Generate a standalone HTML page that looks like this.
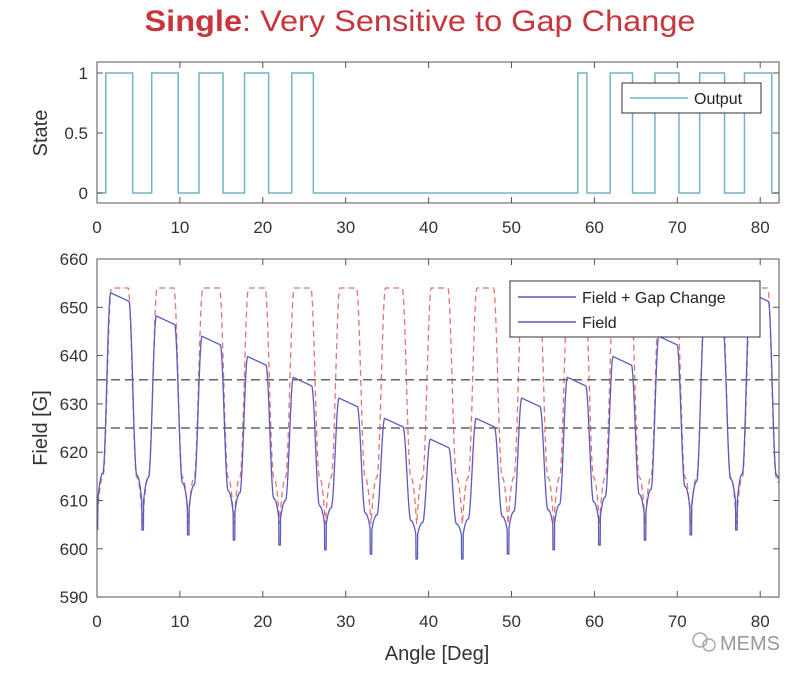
<!DOCTYPE html>
<html><head><meta charset="utf-8"><style>
html,body{margin:0;padding:0;background:#fff;}
svg{display:block;font-family:"Liberation Sans",sans-serif;}
</style></head><body>
<svg id="s" width="800" height="674" viewBox="0 0 800 674" xmlns="http://www.w3.org/2000/svg">
<rect width="800" height="674" fill="#fff"/>
<text x="420" y="31" font-size="30" text-anchor="middle" fill="#c8353c" textLength="551" lengthAdjust="spacingAndGlyphs"><tspan font-weight="bold">Single</tspan>: Very Sensitive to Gap Change</text>
<g id="top"></g>
<g id="bot"></g>
<text x="437" y="660" font-size="20" text-anchor="middle" fill="#333">Angle [Deg]</text>
<text transform="translate(47,133) rotate(-90)" font-size="20" text-anchor="middle" fill="#333">State</text>
<text transform="translate(47,428) rotate(-90)" font-size="20" text-anchor="middle" fill="#333">Field [G]</text>
<g fill="none" stroke="#aaa" stroke-width="1.5"><circle cx="700" cy="640" r="7"/><circle cx="709" cy="645" r="6"/></g>
<text x="720" y="650" font-size="20" fill="#999">MEMS</text>
</svg>
<script>
const NS="http://www.w3.org/2000/svg";
function el(p,t,a,txt){const e=document.createElementNS(NS,t);for(const k in a)e.setAttribute(k,a[k]);if(txt!==undefined)e.textContent=txt;p.appendChild(e);return e;}
const X0=97,KX=8.29,XR=779;
const sx=x=>X0+x*KX;
const T=document.getElementById('top');
const ty=v=>193-v*120;
let edges=[1.05,4.3,6.6,9.8,12.3,15.2,17.8,20.7,23.5,26.1,58.0,59.1,61.9,64.6,67.3,70.2,72.7,75.7,78.1,81.4];
let d="M"+sx(0)+","+ty(0);let st=0;
for(const e of edges){d+=" L"+sx(e)+","+ty(st);st=1-st;d+=" L"+sx(e)+","+ty(st);}
d+=" L"+sx(82.2)+","+ty(st);
el(T,'path',{d:d,fill:'none',stroke:'#72b4c6','stroke-width':1.5});
el(T,'rect',{x:X0,y:62,width:XR-X0,height:141,fill:'none',stroke:'#555','stroke-width':1});
for(let i=0;i<=80;i+=10){el(T,'line',{x1:sx(i),x2:sx(i),y1:203,y2:197,stroke:'#555'});el(T,'line',{x1:sx(i),x2:sx(i),y1:62,y2:68,stroke:'#555'});
el(T,'text',{x:sx(i),y:233,'font-size':17,'text-anchor':'middle',fill:'#333'},String(i));}
[[0,'0'],[0.5,'0.5'],[1,'1']].forEach(([v,l])=>{el(T,'line',{x1:X0,x2:X0+6,y1:ty(v),y2:ty(v),stroke:'#555'});el(T,'line',{x1:XR,x2:XR-6,y1:ty(v),y2:ty(v),stroke:'#555'});
el(T,'text',{x:88,y:ty(v)+6,'font-size':17,'text-anchor':'end',fill:'#333'},l);});
el(T,'rect',{x:622,y:83,width:139,height:30,fill:'#fff',stroke:'#333'});
el(T,'line',{x1:630,x2:688,y1:98,y2:98,stroke:'#72b4c6','stroke-width':1.5});
el(T,'text',{x:694,y:104,'font-size':16,fill:'#222'},'Output');
const B=document.getElementById('bot');
const by=v=>259+(660-v)*4.83;
const P=5.51,C0=2.75,H=P/2;
const peaks=[653,648.2,644,639.8,635.5,631.2,627,622.7,627,631.2,635.5,639.8,644,648.2,653];
const tails=[604,603.9,602.9,601.8,600.8,599.8,598.9,597.9,597.9,598.9,599.8,600.8,601.8,602.9,603.9,604];
function g(dd,w,s,b){if(dd<=w)return 1;if(dd<=w+s){const u=(dd-w)/s;return 1-(1-b)*(0.5-0.5*Math.cos(Math.PI*u));}
const u=(dd-w-s)/(H-w-s);return b*(1-u*u);}
let dr="",db="";
for(let x=0;x<=82.2;x+=0.02){
 let n=Math.round((x-C0)/P);let c=C0+n*P;let dd=Math.abs(x-c);
 let rr=605+49*g(dd,1.0,1.05,0.2);
 let ni=Math.max(0,Math.min(14,n));let pk=peaks[ni];
 let mi=x<c?ni:ni+1;let tl=tails[Math.max(0,Math.min(15,mi))];
 let low=tl+4;
 let gv=g(dd,1.1,0.95,0.17);
 let sl=0.8*(Math.max(-1.1,Math.min(1.1,x-c))+1.1);
 let bv=low+(pk-sl-low)*gv;
 if(dd>H-0.1)bv=tl;
 const px=sx(x).toFixed(2);
 dr+=(dr?" L":"M")+px+","+by(rr).toFixed(2);
 db+=(db?" L":"M")+px+","+by(bv).toFixed(2);
}
el(B,'path',{d:dr,fill:'none',stroke:'#e07575','stroke-width':1.3,'stroke-dasharray':'6,4'});
el(B,'path',{d:db,fill:'none',stroke:'#5a5ac0','stroke-width':1.3});
[635,625].forEach(v=>el(B,'line',{x1:X0,x2:XR,y1:by(v),y2:by(v),stroke:'#666','stroke-width':1.5,'stroke-dasharray':'9,5'}));
el(B,'rect',{x:X0,y:259,width:XR-X0,height:338,fill:'none',stroke:'#555'});
for(let i=0;i<=80;i+=10){el(B,'line',{x1:sx(i),x2:sx(i),y1:597,y2:591,stroke:'#555'});el(B,'line',{x1:sx(i),x2:sx(i),y1:259,y2:265,stroke:'#555'});
el(B,'text',{x:sx(i),y:627,'font-size':17,'text-anchor':'middle',fill:'#333'},String(i));}
for(let v=590;v<=660;v+=10){el(B,'line',{x1:X0,x2:X0+6,y1:by(v),y2:by(v),stroke:'#555'});el(B,'line',{x1:XR,x2:XR-6,y1:by(v),y2:by(v),stroke:'#555'});
el(B,'text',{x:88,y:by(v)+6,'font-size':17,'text-anchor':'end',fill:'#333'},String(v));}
el(B,'rect',{x:510,y:281,width:250,height:56,fill:'#fff',stroke:'#333'});
el(B,'line',{x1:518,x2:576,y1:297,y2:297,stroke:'#5a5ac0','stroke-width':1.5});
el(B,'text',{x:582,y:303,'font-size':16,fill:'#222'},'Field + Gap Change');
el(B,'line',{x1:518,x2:576,y1:322,y2:322,stroke:'#5a5ac0','stroke-width':1.5});
el(B,'text',{x:582,y:328,'font-size':16,fill:'#222'},'Field');
</script>
</body></html>
